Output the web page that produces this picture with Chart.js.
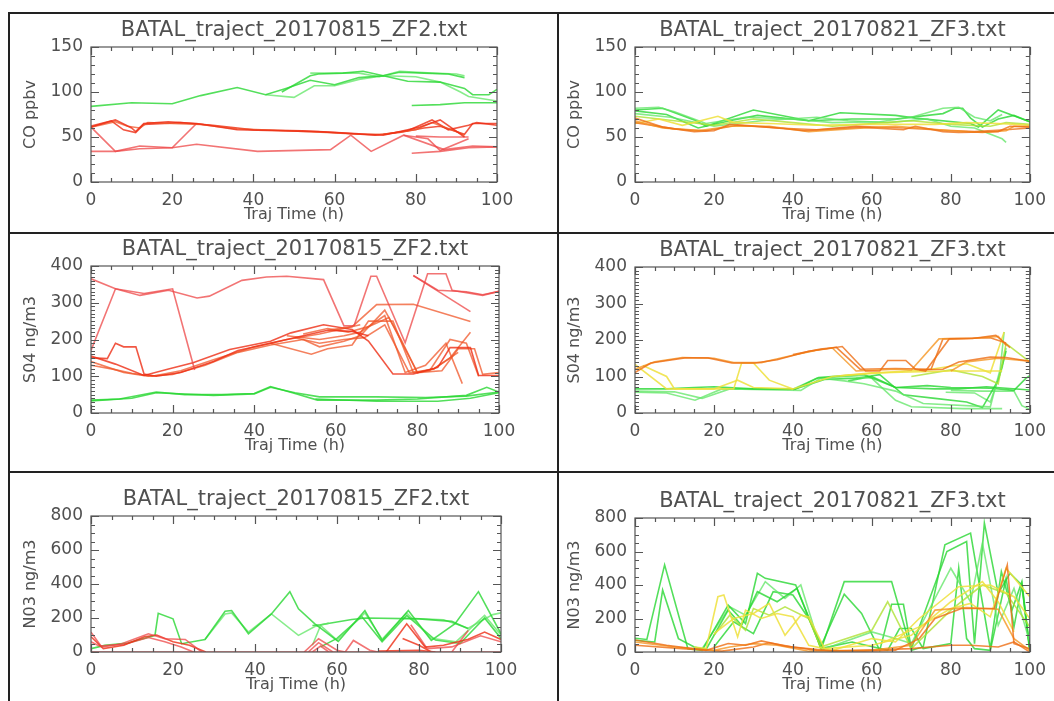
<!DOCTYPE html>
<html>
<head>
<meta charset="utf-8">
<script src="https://cdn.jsdelivr.net/npm/chart.js@4.4.1/dist/chart.umd.min.js"></script>
<style>
  html, body { margin: 0; padding: 0; background: #fff; }
  #page { position: relative; width: 1054px; height: 701px; overflow: hidden; }
  #page canvas { position: absolute; left: 0; top: 0; }
  .rule { position: absolute; background: #222; }
</style>
</head>
<body>
<div id="page">
  <div class="rule" style="left:8px;top:12px;width:1046px;height:2px"></div>
  <div class="rule" style="left:8px;top:12px;width:2px;height:689px"></div>
  <div class="rule" style="left:557px;top:12px;width:2px;height:689px"></div>
  <div class="rule" style="left:8px;top:232px;width:1046px;height:2px"></div>
  <div class="rule" style="left:8px;top:471px;width:1046px;height:2px"></div>
  <canvas id="c1" width="1054" height="701"></canvas>
  <canvas id="c2" width="1054" height="701"></canvas>
  <canvas id="c3" width="1054" height="701"></canvas>
  <canvas id="c4" width="1054" height="701"></canvas>
  <canvas id="c5" width="1054" height="701"></canvas>
  <canvas id="c6" width="1054" height="701"></canvas>
</div>
<script>
// ---- data (hours, value) ----
const titleZF2 = 'BATAL_traject_20170815_ZF2.txt';
const titleZF3 = 'BATAL_traject_20170821_ZF3.txt';
const xTitle = 'Traj Time (h)';
const yTitles = ['CO ppbv', 'S04 ng/m3', 'N03 ng/m3'];
const yMaxes = [150, 400, 800];
const yMajors = [50, 100, 200];
const yMinors = [10, 10, 50];

// CO, 20170815 ZF2
const coZF2 = [
  [[0,84],[10,88],[20,87],[27,96],[36,105],[43,97],[48,104],[54,113],[60,108],[66,116],[72,118],[78,112],[86,111],[92,104],[94,97],[98,97],[100,103]],
  [[43,97],[50,94],[55,107],[60,107],[66,114],[72,118],[80,117],[86,111],[91,100],[93,95],[100,90]],
  [[47,100],[54,118],[56,120],[62,121],[67,123],[72,118],[76,122],[82,121],[88,120],[92,116]],
  [[54,121],[60,121],[66,121],[71,117],[76,123],[84,121],[90,120],[92,118]],
  [[79,85],[86,86],[92,88],[100,88]],
  [[0,61],[6,69],[10,60],[11,56],[13,65],[19,67],[26,65],[36,58],[46,57],[56,56],[64,54],[72,52],[81,61],[86,69],[92,50]],
  [[0,61],[6,67],[9,62],[12,60],[14,66],[20,65],[27,64],[36,59],[48,57],[58,55],[66,53],[72,53],[80,58],[84,66],[90,56],[92,52]],
  [[0,62],[5,68],[8,58],[11,55],[13,64],[22,66],[30,63],[40,58],[52,57],[60,55],[70,52],[76,55],[82,60],[86,62],[92,53],[94,65],[100,65]],
  [[72,53],[78,57],[84,69],[88,58],[93,63],[95,66],[100,63]],
  [[0,61],[6,34],[12,37],[20,38],[26,65]],
  [[0,34],[6,34],[12,40],[20,38],[26,42],[41,34],[59,36],[64,52],[69,34],[77,52],[87,36],[94,40],[100,39]],
  [[79,32],[86,34],[93,38],[100,39]],
  [[77,52],[83,48],[86,35],[93,48]],
  [[80,51],[86,50],[93,50]]
];
const coZF2Colors = ['g','g2','g','g2','g','r','r2','r','r','r3','r3','r3','r3','r3'];

// CO, 20170821 ZF3
const coZF3 = [
  [[0,71],[7,61],[15,56],[20,57],[24,64],[34,61],[43,57],[57,61],[68,58],[71,62],[78,56],[82,55],[92,56],[95,62],[100,61]],
  [[0,68],[7,60],[16,57],[24,62],[34,62],[44,56],[58,60],[66,62],[72,60],[80,57],[88,55],[94,57],[96,62],[100,62]],
  [[0,66],[10,59],[18,57],[26,63],[36,60],[46,58],[56,62],[68,60],[76,58],[86,56],[94,58],[100,60]],
  [[0,65],[6,70],[12,63],[21,73],[25,66],[34,65],[46,63],[58,64],[76,64],[84,66],[92,65],[100,63]],
  [[0,73],[10,68],[20,63],[30,70],[40,66],[50,62],[60,65],[70,68],[80,64],[90,62],[94,66],[100,64]],
  [[0,82],[6,83],[10,78],[18,65],[28,72],[40,70],[50,66],[62,67],[70,72],[78,82],[82,83],[86,72],[90,68],[93,75]],
  [[0,76],[9,72],[20,62],[32,68],[46,72],[54,68],[64,66],[74,70],[80,62],[86,60],[93,48],[94,44]],
  [[0,80],[7,82],[15,69],[18,62],[30,80],[44,68],[52,77],[66,74],[71,71],[85,65],[87,61],[92,80],[100,67]],
  [[0,79],[8,75],[16,60],[24,68],[31,74],[44,68],[55,70],[66,70],[78,76],[81,82],[83,82],[85,71],[88,61],[92,70],[96,74],[100,67]]
];
const coZF3Colors = ['o','o2','o','y','yg','g2','g2','g','g'];

// SO4, 20170815 ZF2
const so4ZF2 = [
  [[0,365],[6,338],[12,320],[19,334],[26,313],[29,318],[37,361],[43,370],[48,372],[57,363],[62,237],[64.5,238],[68.6,372],[70,372],[77,191],[82.5,379],[87,379],[88.5,334],[96,320],[100,331]],
  [[0,170],[6,338],[13,325],[20,338],[25.4,117]],
  [[79,374],[85,334],[92,330],[96,322],[100,331]],
  [[79,374],[93,276]],
  [[58,225],[64,235],[70,295],[79,296],[93,249]],
  [[0,155],[6,133],[13,102],[19,120],[25,137],[34,173],[44,195],[49,218],[57,240],[64,227],[68,196],[74,106],[79,106],[85,124],[88,178],[93,178],[95,102],[100,102]],
  [[0,150],[4,148],[6,190],[8,180],[11,180],[13,106],[16,100],[22,110],[30,140],[36,170],[44,190],[52,210],[58,225],[64,222],[68,210]],
  [[0,140],[8,110],[14,100],[20,105],[28,130],[36,165],[44,185],[52,200],[56,180],[62,195],[66,210],[72,280],[76,200],[80,110],[86,115],[90,175],[94,175],[96,105],[100,110]],
  [[44,190],[54,160],[58,175],[64,185],[68,250],[74,250],[79,110],[84,120],[88,150],[93,220]],
  [[48,210],[56,200],[62,210],[66,220],[72,265],[77,110],[82,130],[87,190],[91,80]],
  [[50,205],[56,190],[62,200],[67,205],[72,240],[78,110],[83,115],[88,200],[92,190],[95,100]],
  [[52,215],[58,230],[63,220],[68,235],[73,260],[80,110],[84,120],[90,165]],
  [[0,130],[5,120],[10,108],[15,100],[22,115],[30,145],[40,180],[48,200],[56,215],[62,230],[66,240]],
  [[0,35],[7,38],[16,57],[23,50],[32,50],[40,53],[44,72],[50,53],[55.5,35],[70,35],[80,38],[92,48],[97,70],[100,57]],
  [[0,33],[10,40],[16,55],[30,48],[40,52],[44,70],[50,55],[56,44],[70,44],[82,42],[92,46],[100,57]],
  [[55,38],[70,32],[85,32],[93,40],[100,55]]
];
const so4ZF2Colors = ['r3','r3','r3','r3','r2','r','r','r2','r2','r2','r2','r2','r2','g','g','g'];

// SO4, 20170821 ZF3
const so4ZF3 = [
  [[0,111],[4,137],[12.6,151],[18.5,151],[24.5,137],[30.4,137],[36,146],[44,169],[52.5,182],[58.4,115],[62,115],[64,144],[68.6,144],[71,120],[73.6,115],[79.6,203],[85.5,204],[91.4,213],[95,179]],
  [[0,120],[5,140],[12,152],[20,150],[25,138],[32,138],[40,158],[46,172],[50,178],[56,115],[66,120],[70,118],[77,203],[86,205],[92,210],[94,185]],
  [[40,160],[47,175],[51,180],[57,120],[66,122],[75,120],[78,203],[90,206],[94,192]],
  [[72,118],[78,120],[82,140],[90,153],[94,152],[100,142]],
  [[80,115],[84,140],[92,150],[100,142]],
  [[0,133],[8,66],[25,66],[27,137],[30,137],[34,90],[40,66]],
  [[2,130],[8,100],[10,66],[20,66],[26,90],[30,70],[40,66],[50,100],[60,110],[80,115],[93,115]],
  [[52,102],[62,110],[75,120],[84,135],[90,110],[93.5,222]],
  [[70,100],[80,118],[88,100],[92,80],[94,190],[100,140]],
  [[0,66],[8,66],[15,70],[20,72],[30,66],[40.6,66],[46.5,97],[52.5,102],[58,105],[66,70],[76,66],[82,66],[89,72],[100,63]],
  [[0,57],[8,55],[15.2,35],[22,66],[40,65],[46,95],[54,100],[60,95],[66,35],[70,17],[83,12],[93,12]],
  [[0,60],[10,58],[17,40],[24,66],[42,62],[47,95],[53,88],[58,80],[66,60],[73,26],[90,17],[92.5,120],[93.5,222]],
  [[40,64],[48,92],[56,95],[62,105],[68,50],[76,40],[84,30],[88,15],[92,90],[94,170]],
  [[78.7,57],[86,55],[90,30],[93,124],[94,178]],
  [[54,88],[60,100],[66,70],[74,75],[80,70],[90,68],[96,62],[99,95],[100,102]],
  [[80,62],[88,60],[96,60],[98,20],[100,10]]
];
const so4ZF3Colors = ['o','o2','o','o','o2','y','y','y','yg','g','g2','g2','g','g2','g','g2'];

// NO3, 20170815 ZF2
const no3ZF2 = [
  [[0,0],[100,0]],
  [[0,117],[2.6,29],[7.5,49],[14,107],[18,78],[23,74],[27,0]],
  [[0,90],[3,20],[8,40],[13,90],[16,100],[20,60],[24,40],[28,0]],
  [[0,60],[2,35],[8,45],[14,85],[18,60],[22,30],[25,0]],
  [[52,0],[55.5,78],[60,10],[62,0]],
  [[53,0],[55.5,55],[59,0]],
  [[54,0],[56,35],[58,0]],
  [[62,0],[64,68],[68,10],[70,0]],
  [[72,0],[77,166],[81.5,29],[86,40],[92,75],[96,117],[100,74]],
  [[76,80],[80,40],[83,0]],
  [[78,160],[82,20],[88,30],[95,95],[100,60]],
  [[88,0],[92,127]],
  [[70,5],[80,10],[84,0]],
  [[0,20],[3.4,39],[9,53],[15.6,98],[16.4,228],[20,195],[22.1,49],[27.8,74],[32.7,240],[34.3,244],[38.4,107],[44,224],[48.5,355],[50.6,254],[54.6,166],[60.3,62],[66.8,244],[71,68],[77.4,244],[83,68],[88.8,166],[94.5,355],[100,107]],
  [[27.8,74],[32.7,224],[34.3,230],[38.4,117],[44,224],[50.6,98],[54.6,150],[58,170]],
  [[54,156],[56,160],[63.6,191],[67,200],[80,195],[88,180],[92,137]],
  [[54,40],[56,156],[60,70],[66.8,230],[71,75],[77,230],[83,80],[89,60],[96,215],[100,100]],
  [[56,30],[60,80],[66,210],[71,60],[77,215],[84,70],[90,50],[96,200],[100,80]],
  [[76,200],[86,190],[92,140],[98,220],[100,230]]
];
const no3ZF2Colors = ['r3','r3','r','r3','r3','r3','r3','r3','r','r','r3','r3','r','g','g2','g','g2','g','g2'];

// NO3, 20170821 ZF3
const no3ZF3 = [
  [[0,72],[8,40],[18,10],[23.6,51],[28,40],[32,66],[38,35],[46,10],[58,5],[66,10],[72,80],[76,200],[82.7,260],[91,260],[94.3,520],[96,50],[100,20]],
  [[0,60],[10,30],[20,10],[24,30],[30,50],[36,40],[44,5],[60,10],[70,40],[76,250],[84,265],[92,255],[96,80],[100,10]],
  [[0,40],[12,20],[22,5],[30,30],[34,55],[40,30],[50,5],[70,20],[80,40],[85,40],[92,30],[96,60],[100,0]],
  [[15,30],[18,20],[21,330],[22.5,340],[26,90],[28,250],[32,200],[36,230],[40,210],[44,40],[50,10],[60,80],[66,60],[72,200],[82,390],[90,400],[96,330],[100,200]],
  [[20,110],[25,200],[30,230],[34,290],[38,100],[42,220],[44,210],[48,20],[60,40],[70,100],[80,300],[88,420],[92,300],[96,120]],
  [[62,50],[72,150],[80,260],[85,290],[90,210],[94,500],[100,330]],
  [[20,100],[24,220],[28,130],[30,260],[34,220],[38,270],[44,200],[47,30],[60,130],[64,300],[70,20],[80,250],[88,400],[94,350],[100,150]],
  [[47,10],[60,120],[66,80],[70,50],[80,500],[85,300],[88,650],[92,160],[96,380],[100,60]],
  [[0,82],[3,75],[7.5,520],[13.4,20],[17,10],[23.6,280],[28,170],[31,470],[33,440],[40.7,400],[47.2,20],[53,420],[65,420],[70,10],[73,30],[78.5,640],[85,710],[90,20],[92.8,480],[95.5,250],[98,420],[100,10]],
  [[0,70],[5,60],[7,370],[11,80],[15,30],[18,15],[23.6,250],[27,160],[31,360],[36,300],[41,380],[47,30],[53,345],[57.4,230],[62,10],[65,285],[68,285],[70,20],[79,600],[84,660],[86,50],[88.5,770],[92,350],[95,470],[98,400],[100,20]],
  [[17,20],[24,270],[28,220],[33,420],[38,320],[42,400],[47,20]],
  [[20,30],[25,180],[30,110],[35,360],[40,340],[44,200],[48,10]],
  [[47,20],[55,60],[64,10],[67,140],[70,140],[73,20],[80,50],[82,500],[84,80],[86,20],[90,10],[94,440],[96,150],[98,400],[100,0]]
];
const no3ZF3Colors = ['o','o2','o','y','y','y','yg','g2','g','g','g2','g','g'];

// ---- styles ----
const palette = {
  g:  'rgba(40,215,50,0.8)',
  g2: 'rgba(95,230,100,0.75)',
  r:  'rgba(238,45,20,0.8)',
  r2: 'rgba(240,85,40,0.75)',
  r3: 'rgba(238,70,70,0.75)',
  o:  'rgba(238,110,20,0.8)',
  o2: 'rgba(245,150,35,0.8)',
  y:  'rgba(238,225,60,0.85)',
  yg: 'rgba(175,225,50,0.8)'
};
const textColor = '#505050';
const fontFamily = "'DejaVu Sans', Verdana, sans-serif";

// plot boxes in page pixels
const boxes = [
  { L: 91,  T: 47,  R: 497,  B: 182 },
  { L: 635, T: 47,  R: 1031, B: 182 },
  { L: 91,  T: 266, R: 499,  B: 413 },
  { L: 635, T: 267, R: 1030, B: 413 },
  { L: 91,  T: 516, R: 501,  B: 652 },
  { L: 635, T: 518, R: 1031, B: 652 }
];

// frame with IDL-style ticks on every side
const frameTicks = {
  id: 'frameTicks',
  afterDatasetsDraw(chart, args, opts) {
    const { ctx, chartArea: a, scales: { x, y } } = chart;
    ctx.save();
    ctx.strokeStyle = '#555';
    ctx.lineWidth = 1.2;
    ctx.strokeRect(a.left, a.top, a.right - a.left, a.bottom - a.top);
    ctx.beginPath();
    for (let v = x.min; v <= x.max + 1e-6; v += opts.xMinor) {
      const px = Math.round(x.getPixelForValue(v)) + 0.5;
      const len = Math.abs(v % opts.xMajor) < 1e-6 ? 8 : 4;
      ctx.moveTo(px, a.bottom); ctx.lineTo(px, a.bottom - len);
      ctx.moveTo(px, a.top); ctx.lineTo(px, a.top + len);
    }
    for (let v = y.min; v <= y.max + 1e-6; v += opts.yMinor) {
      const py = Math.round(y.getPixelForValue(v)) + 0.5;
      const len = Math.abs(v % opts.yMajor) < 1e-6 ? 8 : 4;
      ctx.moveTo(a.left, py); ctx.lineTo(a.left + len, py);
      ctx.moveTo(a.right, py); ctx.lineTo(a.right - len, py);
    }
    ctx.stroke();
    ctx.restore();
  }
};

function makeChart(id, box, title, traces, colors, row) {
  const datasets = traces.map((tr, i) => ({
    data: tr.map(p => ({ x: p[0], y: p[1] })),
    borderColor: palette[colors[i]],
    borderWidth: 1.6,
    pointRadius: 0,
    tension: 0,
    fill: false
  }));
  return new Chart(document.getElementById(id), {
    type: 'line',
    data: { datasets },
    plugins: [frameTicks],
    options: {
      responsive: false,
      animation: false,
      events: [],
      layout: {
        padding: { left: box.L - 72, right: 1054 - box.R, top: box.T - 29.2, bottom: 701 - box.B - 44 }
      },
      plugins: {
        legend: { display: false },
        tooltip: { enabled: false },
        title: {
          display: true, text: title, fullSize: false, color: textColor,
          font: { family: fontFamily, size: 21, weight: 'normal' },
          padding: { top: 0, bottom: 4 }
        },
        frameTicks: { xMinor: 5, xMajor: 20, yMinor: yMinors[row], yMajor: yMajors[row] }
      },
      scales: {
        x: {
          type: 'linear', min: 0, max: 100,
          afterFit(s) { s.height = 44; },
          grid: { display: false, drawTicks: false },
          border: { display: false },
          ticks: { stepSize: 20, padding: 8, color: textColor, maxRotation: 0, font: { family: fontFamily, size: 17 } },
          title: { display: true, text: xTitle, color: textColor, font: { family: fontFamily, size: 16 }, padding: { top: 0, bottom: 2 } }
        },
        y: {
          type: 'linear', min: 0, max: yMaxes[row],
          afterFit(s) { s.width = 72; },
          grid: { display: false, drawTicks: false },
          border: { display: false },
          ticks: { stepSize: yMajors[row], padding: 8, color: textColor, font: { family: fontFamily, size: 17 } },
          title: { display: true, text: yTitles[row], color: textColor, font: { family: fontFamily, size: 16 }, padding: { top: 2, bottom: 0 } }
        }
      }
    }
  });
}

makeChart('c1', boxes[0], titleZF2, coZF2, coZF2Colors, 0);
makeChart('c2', boxes[1], titleZF3, coZF3, coZF3Colors, 0);
makeChart('c3', boxes[2], titleZF2, so4ZF2, so4ZF2Colors, 1);
makeChart('c4', boxes[3], titleZF3, so4ZF3, so4ZF3Colors, 1);
makeChart('c5', boxes[4], titleZF2, no3ZF2, no3ZF2Colors, 2);
makeChart('c6', boxes[5], titleZF3, no3ZF3, no3ZF3Colors, 2);
</script>
</body>
</html>
